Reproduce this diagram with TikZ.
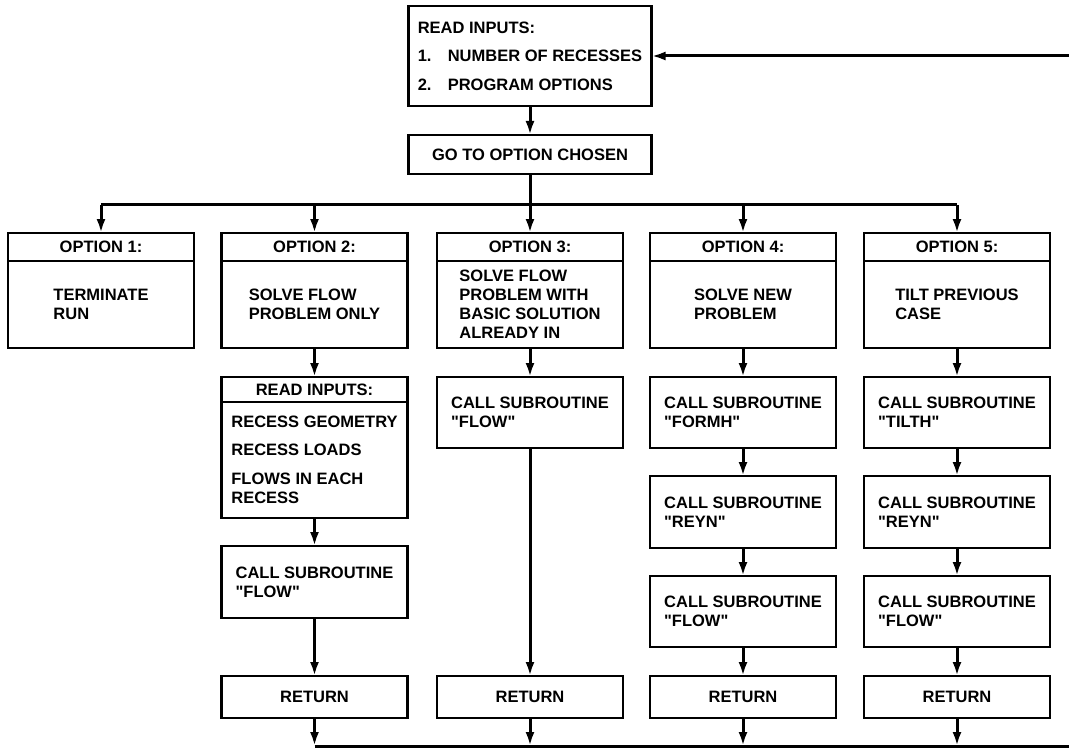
\documentclass[tikz,border=0pt]{standalone}
\usepackage{fontspec}
% plain family, so that " stays a straight quote
\newfontfamily\chartfont{Liberation Sans}
\usetikzlibrary{arrows.meta}

\tikzset{
	box/.style={draw, line width=2.4pt, minimum width=186pt, inner sep=0pt, outer sep=0pt, align=left,
		font=\chartfont\bfseries\fontsize{16.5}{19}\selectfont},
	hdr/.style={box, minimum height=28pt, align=center},
	link/.style={line width=3pt, -{Latex[length=14pt,width=9pt]}},
	rail/.style={line width=3pt},
}

\begin{document}
\begin{tikzpicture}[x=1pt, y=-1pt]
	\useasboundingbox (0,0) rectangle (1069,749);

	% input and dispatch
	\node [box, minimum width=243pt, minimum height=100pt] (read) at (530,56)
		{READ INPUTS:\\[9.5pt]\makebox[30pt][l]{1.}NUMBER OF RECESSES\\[9.5pt]\makebox[30pt][l]{2.}PROGRAM OPTIONS};
	\node [box, minimum width=243pt, minimum height=39pt, align=center] (goto) at (530,154.5) {GO TO OPTION CHOSEN};
	\draw [link] (read) -- (goto);

	\coordinate (b1) at (101,205);
	\coordinate (b2) at (314.5,205);
	\coordinate (b3) at (530,205);
	\coordinate (b4) at (743,205);
	\coordinate (b5) at (957,205);
	\draw [rail] (goto) -- (b3);
	\draw [rail] (b1) -- (b5);

	% option 1
	\node [hdr, anchor=north] (o1h) at (101,233) {OPTION 1:};
	\node [box, anchor=north, minimum height=87pt] (o1) at (o1h.south) {TERMINATE\\RUN};

	% option 2
	\node [hdr, anchor=north] (o2h) at (314.5,233) {OPTION 2:};
	\node [box, anchor=north, minimum height=87pt] (o2) at (o2h.south) {SOLVE FLOW\\PROBLEM ONLY};
	\node [hdr, anchor=north, minimum height=25pt] (in2h) at (314.5,377) {READ INPUTS:};
	\node [box, anchor=north, minimum height=116pt] (in2) at (in2h.south)
		{RECESS GEOMETRY\\[9pt]RECESS LOADS\\[10pt]FLOWS IN EACH\\RECESS};
	\node [box, anchor=north, minimum height=72pt] (f2) at (314.5,546) {CALL SUBROUTINE\\"FLOW"};
	\node [box, anchor=north, minimum height=42pt, align=center] (r2) at (314.5,676) {RETURN};

	% option 3
	\node [hdr, anchor=north] (o3h) at (530,233) {OPTION 3:};
	\node [box, anchor=north, minimum height=87pt] (o3) at (o3h.south)
		{SOLVE FLOW\\PROBLEM WITH\\BASIC SOLUTION\\ALREADY IN};
	\node [box, anchor=north, minimum height=71pt] (f3) at (530,377) {CALL SUBROUTINE\\"FLOW"};
	\node [box, anchor=north, minimum height=42pt, align=center] (r3) at (530,676) {RETURN};

	% option 4
	\node [hdr, anchor=north] (o4h) at (743,233) {OPTION 4:};
	\node [box, anchor=north, minimum height=87pt] (o4) at (o4h.south) {SOLVE NEW\\PROBLEM};
	\node [box, anchor=north, minimum height=71pt] (m4) at (743,377) {CALL SUBROUTINE\\"FORMH"};
	\node [box, anchor=north, minimum height=72pt] (y4) at (743,476) {CALL SUBROUTINE\\"REYN"};
	\node [box, anchor=north, minimum height=71pt] (f4) at (743,576) {CALL SUBROUTINE\\"FLOW"};
	\node [box, anchor=north, minimum height=42pt, align=center] (r4) at (743,676) {RETURN};

	% option 5
	\node [hdr, anchor=north] (o5h) at (957,233) {OPTION 5:};
	\node [box, anchor=north, minimum height=87pt] (o5) at (o5h.south) {TILT PREVIOUS\\CASE};
	\node [box, anchor=north, minimum height=71pt] (t5) at (957,377) {CALL SUBROUTINE\\"TILTH"};
	\node [box, anchor=north, minimum height=72pt] (y5) at (957,476) {CALL SUBROUTINE\\"REYN"};
	\node [box, anchor=north, minimum height=71pt] (f5) at (957,576) {CALL SUBROUTINE\\"FLOW"};
	\node [box, anchor=north, minimum height=42pt, align=center] (r5) at (957,676) {RETURN};

	% branches into the options
	\draw [link] (b1) -- (o1h);
	\draw [link] (b2) -- (o2h);
	\draw [link] (b3) -- (o3h);
	\draw [link] (b4) -- (o4h);
	\draw [link] (b5) -- (o5h);

	% steps inside each option
	\draw [link] (o2) -- (in2h);
	\draw [link] (in2) -- (f2);
	\draw [link] (f2) -- (r2);
	\draw [link] (o3) -- (f3);
	\draw [link] (f3) -- (r3);
	\draw [link] (o4) -- (m4);
	\draw [link] (m4) -- (y4);
	\draw [link] (y4) -- (f4);
	\draw [link] (f4) -- (r4);
	\draw [link] (o5) -- (t5);
	\draw [link] (t5) -- (y5);
	\draw [link] (y5) -- (f5);
	\draw [link] (f5) -- (r5);

	% returns back to the input
	\coordinate (e2) at (314.5,746);
	\coordinate (e3) at (530,746);
	\coordinate (e4) at (743,746);
	\coordinate (e5) at (957,746);
	\coordinate (back) at (1069,746);
	\coordinate (loop) at (1069,56);
	\draw [link] (r2) -- (e2);
	\draw [link] (r3) -- (e3);
	\draw [link] (r4) -- (e4);
	\draw [link] (r5) -- (e5);
	\draw [rail] (e2) -- (back);
	\draw [link] (loop) -- (read);
\end{tikzpicture}
\end{document}
